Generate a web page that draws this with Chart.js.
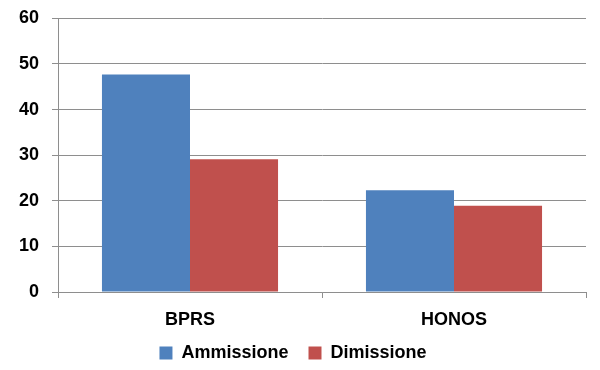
<!DOCTYPE html>
<html>
<head>
<meta charset="utf-8">
<script src="https://cdn.jsdelivr.net/npm/chart.js@4"></script>
<style>
html,body{margin:0;padding:0;background:#fff;}
#wrap{width:600px;height:370px;}
</style>
</head>
<body>
<div id="wrap"><canvas id="c" width="600" height="370"></canvas></div>
<script>
const categories = ["BPRS", "HONOS"];
const ammissione = [47.7, 22.3];
const dimissione = [29.1, 18.9];
const yTicks = [0, 10, 20, 30, 40, 50, 60];

const font = {family: "'Liberation Sans', Arial, sans-serif", weight: "bold", size: 18};
const yFont = {family: "'Liberation Sans', Arial, sans-serif", weight: "bold", size: 18, lineHeight: 0.6};
const gridCol = "#8e8e8e";

const legendFix = {
  id: "legendFix",
  afterInit(chart) {
    const lg = chart.legend;
    if (!lg) return;
    const origFit = lg.fit.bind(lg);
    lg.fit = function () { origFit(); this.height = 32; };
    const origDraw = lg.draw.bind(lg);
    lg.draw = function () { this.top -= 14; origDraw(); this.top += 14; };
  }
};

new Chart(document.getElementById("c"), {
  type: "bar",
  data: {
    labels: categories,
    datasets: [
      {label: "Ammissione", data: ammissione, backgroundColor: "#4F81BD", borderWidth: 0},
      {label: "Dimissione", data: dimissione, backgroundColor: "#C0504D", borderWidth: 0}
    ]
  },
  plugins: [legendFix],
  options: {
    responsive: false,
    animation: false,
    devicePixelRatio: 1,
    layout: {padding: {top: 3, right: 14, left: 0, bottom: 0}},
    datasets: {bar: {categoryPercentage: 0.667, barPercentage: 1}},
    plugins: {
      legend: {
        position: "bottom",
        labels: {font: font, color: "#000", boxWidth: 13, boxHeight: 13, padding: 20}
      },
      tooltip: {enabled: false}
    },
    scales: {
      x: {
        afterFit: (s) => { s.height = 46; },
        grid: {display: true, drawOnChartArea: false, color: gridCol, tickLength: 6, offset: true},
        border: {color: gridCol},
        ticks: {font: font, color: "#000", padding: 11}
      },
      y: {
        min: 0, max: 60,
        afterFit: (s) => { s.width = 58; },
        afterBuildTicks: (s) => { s.ticks = yTicks.map(v => ({value: v})); },
        grid: {color: gridCol, tickLength: 6},
        border: {color: gridCol},
        ticks: {font: yFont, color: "#000", padding: 13}
      }
    }
  }
});
</script>
</body>
</html>
